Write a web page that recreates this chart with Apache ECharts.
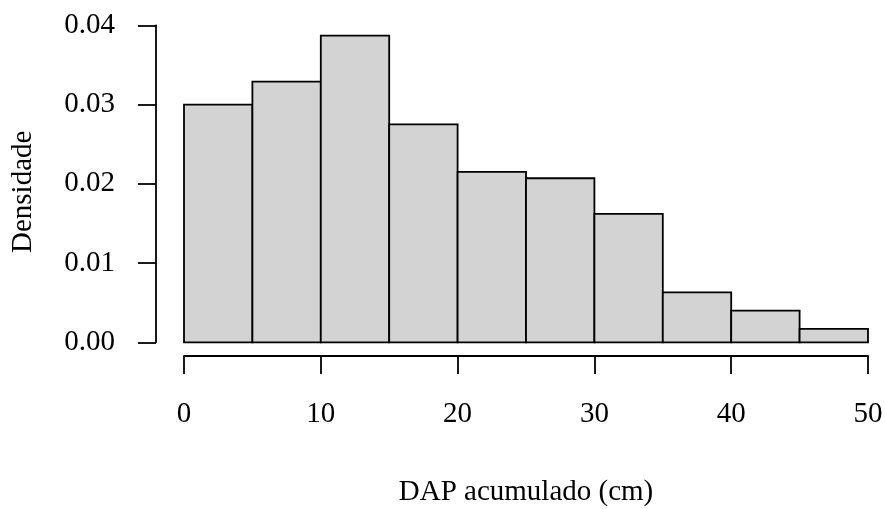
<!DOCTYPE html>
<html>
<head>
<meta charset="utf-8">
<script src="https://cdn.jsdelivr.net/npm/echarts@6/dist/echarts.min.js"></script>
<style>
	html, body { margin: 0; padding: 0; background: #fff; }
	#main { width: 885px; height: 509px; }
</style>
</head>
<body>
<div id="main"></div>
<script>
// classes do histograma (cm)
var binStart = [0, 5, 10, 15, 20, 25, 30, 35, 40, 45];
var binEnd = [5, 10, 15, 20, 25, 30, 35, 40, 45, 50];
var density = [0.0300, 0.0329, 0.0387, 0.0275, 0.0215, 0.0207, 0.0162, 0.0063, 0.0040, 0.0017];
var xTicks = [0, 10, 20, 30, 40, 50];
var yTicks = [0, 0.01, 0.02, 0.03, 0.04];

var serif = 'Liberation Serif';
var black = { color: '#000', width: 1.8 };

var histData = [];
for (var i = 0; i < density.length; i++) {
	histData.push([binStart[i], binEnd[i], density[i]]);
}

var xMin = xTicks[0], xMax = xTicks[xTicks.length - 1];
var yMin = yTicks[0], yMax = yTicks[yTicks.length - 1];

// eixo escondido (so para escala)
function hiddenAxis(type, gridIndex, min, max) {
	return {
		type: type, gridIndex: gridIndex, min: min, max: max,
		axisLine: { show: false }, axisTick: { show: false },
		axisLabel: { show: false }, splitLine: { show: false }
	};
}

var myChart = echarts.init(document.getElementById('main'));
var option = {
	animation: false,
	backgroundColor: '#fff',
	textStyle: { fontFamily: serif, color: '#000' },
	grid: [
		// area das barras
		{ left: 184, right: 17, top: 25.3, bottom: 166.7, outerBoundsMode: 'none' },
		// eixo x deslocado para baixo (estilo R)
		{ left: 184, right: 17, top: 25.3, bottom: 153, outerBoundsMode: 'none' },
		// eixo y deslocado para a esquerda
		{ left: 156, right: 17, top: 25.3, bottom: 166.7, outerBoundsMode: 'none' }
	],
	xAxis: [
		hiddenAxis('value', 0, xMin, xMax),
		{
			type: 'value',
			gridIndex: 1,
			min: xMin,
			max: xMax,
			interval: 10,
			name: 'DAP acumulado (cm)',
			nameLocation: 'middle',
			nameGap: 122,
			nameTextStyle: { fontFamily: serif, fontSize: 29, color: '#000' },
			axisLine: { lineStyle: black },
			axisTick: { length: 18, lineStyle: black },
			axisLabel: { fontFamily: serif, fontSize: 29, color: '#000', margin: 44, lineHeight: 29 },
			splitLine: { show: false }
		},
		hiddenAxis('value', 2, xMin, xMax)
	],
	yAxis: [
		hiddenAxis('value', 0, yMin, yMax),
		hiddenAxis('value', 1, yMin, yMax),
		{
			type: 'value',
			gridIndex: 2,
			min: yMin,
			max: yMax,
			interval: 0.01,
			name: 'Densidade',
			nameLocation: 'middle',
			nameGap: 118,
			nameTextStyle: { fontFamily: serif, fontSize: 29, color: '#000', padding: [0, 16, 0, 0] },
			axisLine: { show: true, lineStyle: black },
			axisTick: { show: true, length: 18, lineStyle: black },
			axisLabel: {
				fontFamily: serif, fontSize: 29, color: '#000', margin: 41,
				formatter: function (v) { return v.toFixed(2); }
			},
			splitLine: { show: false }
		}
	],
	series: [{
		type: 'custom',
		xAxisIndex: 0,
		yAxisIndex: 0,
		data: histData,
		encode: { x: [0, 1], y: 2 },
		renderItem: function (params, api) {
			var p0 = api.coord([api.value(0), api.value(2)]);
			var p1 = api.coord([api.value(1), 0]);
			return {
				type: 'rect',
				shape: { x: p0[0], y: p0[1], width: p1[0] - p0[0], height: p1[1] - p0[1] },
				style: { fill: '#d3d3d3', stroke: '#000', lineWidth: 1.8 }
			};
		}
	}]
};
myChart.setOption(option);
</script>
</body>
</html>
